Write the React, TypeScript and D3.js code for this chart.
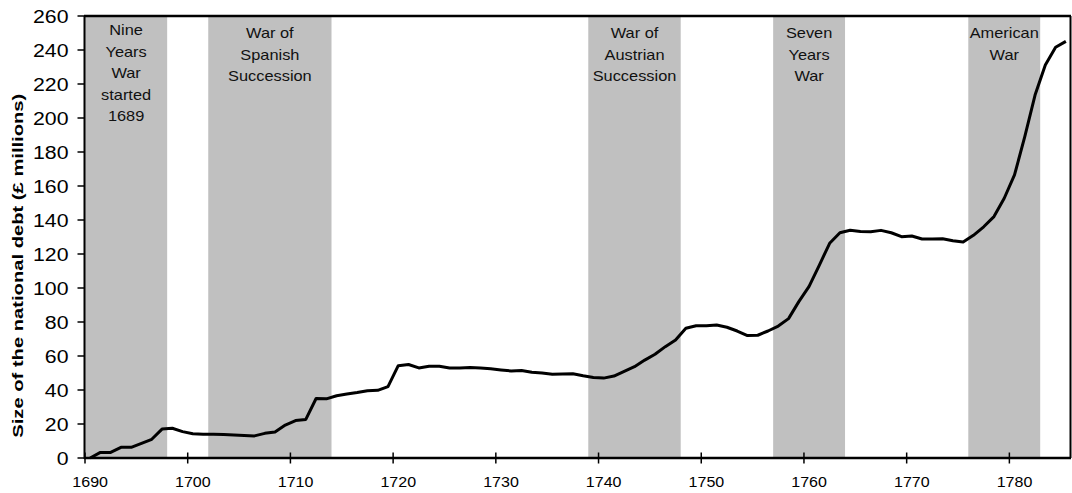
import * as d3 from "d3";

// annual debt, £ millions, starting 1690
const FIRST_YEAR = 1690;
const DEBT = [
  0, 3.3, 3.3, 6.3, 6.3, 8.6, 11, 17, 17.5, 15.5,
  14.3, 14, 14, 13.8, 13.5, 13.2, 13, 14.5, 15.3, 19.4,
  22, 22.7, 35, 34.8, 36.6, 37.6, 38.5, 39.6, 39.8, 42,
  54.3, 55, 53, 54, 54, 53, 53, 53.2, 53, 52.5,
  51.8, 51.2, 51.5, 50.4, 50, 49.2, 49.4, 49.6, 48.4, 47.4,
  47, 48.2, 51, 53.7, 57.6, 61, 65.5, 69.4, 76.3, 77.8,
  77.8, 78.2, 76.9, 74.7, 72, 72.2, 74.7, 77.6, 82, 92,
  101, 113.5, 126.3, 132.5, 134, 133.3, 133.1, 133.9, 132.5, 130.2,
  130.6, 128.8, 128.8, 129, 127.8, 127, 131, 136, 142, 152.8,
  166.5, 189, 213.5, 231.2, 241.6, 245.1,
];

const WARS = [
  { lines: ["Nine", "Years", "War", "started", "1689"], start: 1690, end: 1698 },
  { lines: ["War of", "Spanish", "Succession"], start: 1702, end: 1714 },
  { lines: ["War of", "Austrian", "Succession"], start: 1739, end: 1748 },
  { lines: ["Seven", "Years", "War"], start: 1757, end: 1764 },
  { lines: ["American", "War"], start: 1776, end: 1783 },
];

const X_TICKS = [1690, 1700, 1710, 1720, 1730, 1740, 1750, 1760, 1770, 1780];
const Y_TICKS = [0, 20, 40, 60, 80, 100, 120, 140, 160, 180, 200, 220, 240, 260];
const Y_TITLE = "Size of the national debt (£ millions)";

const W = 1072;
const H = 493;
const m = { top: 16, right: 1, bottom: 35, left: 85 };
const FONT = "'Liberation Sans', Arial, Helvetica, sans-serif";

export default function App() {
  const x = d3.scaleLinear().domain([1690, 1786]).range([m.left, W - m.right]);
  const y = d3.scaleLinear().domain([0, 260]).range([H - m.bottom, m.top]);

  const points = DEBT.map((v, i) => ({ year: FIRST_YEAR + i, v }));
  const line = d3
    .line<{ year: number; v: number }>()
    .x((d) => x(d.year + 0.5))
    .y((d) => y(d.v));

  const bottom = y(0);
  const top = y(260);

  return (
    <svg
      width={W}
      height={H}
      style={{ position: "absolute", left: 0, top: 0, background: "#fff" }}
      fontFamily={FONT}
    >
      {/* war bands */}
      {WARS.map((w) => (
        <rect
          key={w.start}
          x={x(w.start)}
          y={top}
          width={x(w.end) - x(w.start)}
          height={bottom - top}
          fill="#c0c0c0"
        />
      ))}
      {WARS.map((w) => {
        const cx = (x(w.start) + x(w.end)) / 2;
        const first = w.lines.length > 3 ? 35 : 38.3;
        return (
          <g key={"t" + w.start}>
            {w.lines.map((s, i) => (
              <text
                key={i}
                transform={`translate(${cx},${first + i * 21.5}) scale(1.17,1)`}
                textAnchor="middle"
                fontSize={14}
                fill="#111"
              >
                {s}
              </text>
            ))}
          </g>
        );
      })}

      {/* debt line */}
      <path d={line(points)!} fill="none" stroke="#000" strokeWidth={3} strokeLinejoin="round" />

      {/* frame */}
      <line x1={m.left - 1} x2={W - m.right} y1={top} y2={top} stroke="#000" strokeWidth={2.5} />
      <line x1={W - m.right - 0.5} x2={W - m.right - 0.5} y1={top} y2={bottom} stroke="#000" strokeWidth={2} />
      <line x1={m.left - 0.5} x2={m.left - 0.5} y1={top} y2={bottom + 1} stroke="#000" strokeWidth={2} />
      <line x1={m.left - 1} x2={W - m.right} y1={bottom} y2={bottom} stroke="#000" strokeWidth={2.5} />

      {/* y axis */}
      {Y_TICKS.map((t) => (
        <g key={"y" + t}>
          <line x1={m.left - 7.5} x2={m.left} y1={y(t)} y2={y(t)} stroke="#000" strokeWidth={1.5} />
          <text
            transform={`translate(${m.left - 16.5},${y(t)}) scale(1.15,1)`}
            dy="0.39em"
            textAnchor="end"
            fontSize={18.5}
            fill="#000"
          >
            {t}
          </text>
        </g>
      ))}

      {/* x axis */}
      {X_TICKS.map((t) => (
        <g key={"x" + t}>
          <line x1={x(t)} x2={x(t)} y1={bottom - 5.5} y2={bottom + 5.5} stroke="#000" strokeWidth={1.5} />
          <text
            transform={`translate(${x(t + 0.5)},${H - 6.5}) scale(1.07,1)`}
            textAnchor="middle"
            fontSize={15}
            fill="#000"
          >
            {t}
          </text>
        </g>
      ))}

      <text
        transform={`translate(22.7,265.7) rotate(-90)`}
        textAnchor="middle"
        fontSize={15.4}
        fontWeight="bold"
        textLength={344}
        lengthAdjust="spacingAndGlyphs"
        fill="#000"
      >
        {Y_TITLE}
      </text>
    </svg>
  );
}
